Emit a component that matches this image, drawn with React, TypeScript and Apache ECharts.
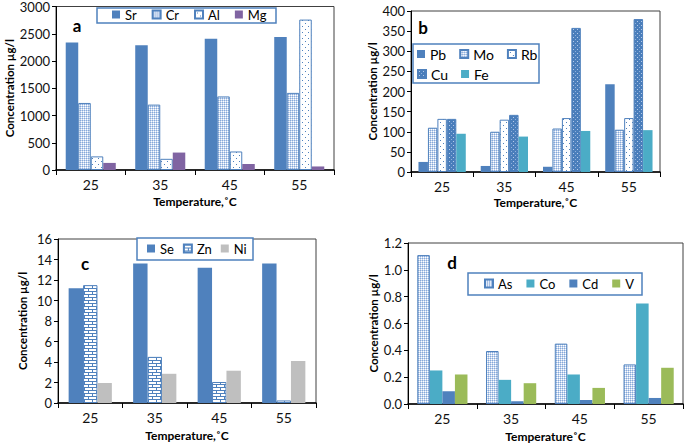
import React, { useEffect, useRef } from "react";
import * as echarts from "echarts";

const temps = ["25", "35", "45", "55"];

// Panel a
const sr = [2340, 2290, 2410, 2440];
const cr = [1230, 1200, 1350, 1415];
const al = [250, 205, 340, 2760];
const mg = [130, 320, 110, 65];
// Panel b
const pb = [25, 15, 13, 218];
const mo = [110, 100, 108, 105];
const rb = [132, 130, 134, 134];
const cu = [132, 142, 358, 380];
const fe = [95, 88, 102, 104];
// Panel c
const se = [11.2, 13.6, 13.2, 13.6];
const zn = [11.5, 4.5, 2.05, 0.25];
const ni = [1.95, 2.85, 3.15, 4.1];
// Panel d
const as = [1.11, 0.395, 0.45, 0.295];
const co = [0.25, 0.18, 0.22, 0.75];
const cd = [0.095, 0.02, 0.03, 0.045];
const v = [0.22, 0.155, 0.12, 0.27];

const BLUE = "#4F81BD";
const FONT = "Lato, 'Open Sans', sans-serif";

function tile(w: number, h: number, draw: (ctx: CanvasRenderingContext2D) => void) {
  const c = document.createElement("canvas");
  c.width = w;
  c.height = h;
  const ctx = c.getContext("2d") as CanvasRenderingContext2D;
  draw(ctx);
  return { image: c, repeat: "repeat", imageWidth: w, imageHeight: h } as any;
}

export default function App() {
  const ref = useRef<HTMLDivElement>(null);
  useEffect(() => {
    if (!ref.current) return;
    const chart = echarts.init(ref.current, undefined, { renderer: "svg" });

    const gridPat = tile(2, 2, (g) => {
      g.fillStyle = "#87a9d9"; g.fillRect(0, 0, 1, 1);
      g.fillStyle = "#c4d5ee"; g.fillRect(1, 0, 1, 1);
      g.fillStyle = "#c4d5ee"; g.fillRect(0, 1, 1, 1);
      g.fillStyle = "#ffffff"; g.fillRect(1, 1, 1, 1);
    });
    const dotPat = tile(6, 6, (g) => {
      g.fillStyle = "#ffffff"; g.fillRect(0, 0, 6, 6);
      g.fillStyle = BLUE; g.fillRect(2, 2, 1, 1); g.fillRect(5, 5, 1, 1);
    });
    const cuPat = tile(4, 4, (g) => {
      g.fillStyle = "#4a7ebb"; g.fillRect(0, 0, 4, 4);
      g.fillStyle = "#b7cbe9"; g.fillRect(1, 1, 1, 1);
      g.fillStyle = "#8fb0dd"; g.fillRect(3, 3, 1, 1);
    });
    const brickPat = tile(8, 6, (g) => {
      g.fillStyle = "#ffffff"; g.fillRect(0, 0, 8, 6);
      g.fillStyle = BLUE;
      g.fillRect(0, 0, 8, 1); g.fillRect(0, 3, 8, 1);
      g.fillRect(0, 1, 1, 2); g.fillRect(4, 4, 1, 2);
    });

    const grids = [
      { left: 56, top: 5, width: 278, height: 165 },
      { left: 411, top: 11, width: 249, height: 161 },
      { left: 58, top: 239, width: 258, height: 164 },
      { left: 408, top: 243, width: 275, height: 161 },
    ];
    const xNames = ["Temperature,˚C", "Temperature,˚C", "Temperature,˚C", "Temperature˚C"];
    const xGaps = [25, 24, 26, 26];
    const yGaps = [40, 32, 30, 28];
    const yRanges = [
      { min: 0, max: 3000, interval: 500 },
      { min: 0, max: 400, interval: 50 },
      { min: 0, max: 16, interval: 2 },
      { min: 0, max: 1.2, interval: 0.2 },
    ];
    const catGaps = ["28%", "24%", "33%", "27%"];

    const mk = (name: string, data: number[], idx: number, color: any, border = false) => ({
      name,
      type: "bar",
      xAxisIndex: idx,
      yAxisIndex: idx,
      data,
      barGap: "0%",
      barCategoryGap: catGaps[idx],
      itemStyle: {
        color,
        borderColor: border ? BLUE : "transparent",
        borderWidth: border ? 1 : 0,
      },
    });

    const series = [
      mk("Sr", sr, 0, BLUE),
      mk("Cr", cr, 0, gridPat, true),
      mk("Al", al, 0, dotPat, true),
      mk("Mg", mg, 0, "#8064A2"),
      mk("Pb", pb, 1, BLUE),
      mk("Mo", mo, 1, gridPat, true),
      mk("Rb", rb, 1, dotPat, true),
      mk("Cu", cu, 1, cuPat, true),
      mk("Fe", fe, 1, "#4BACC6"),
      mk("Se", se, 2, BLUE),
      mk("Zn", zn, 2, brickPat, true),
      mk("Ni", ni, 2, "#BFBFBF"),
      mk("As", as, 3, gridPat, true),
      mk("Co", co, 3, "#4BACC6"),
      mk("Cd", cd, 3, BLUE),
      mk("V", v, 3, "#9BBB59"),
    ];

    const legendBase = {
      orient: "horizontal",
      padding: 0,
      itemWidth: 8,
      itemHeight: 8,
      icon: "rect",
      z: 10,
      textStyle: { fontSize: 13, color: "#000", fontFamily: FONT },
    };

    const boxes = [
      { x: 97, y: 8, w: 179, h: 15 },
      { x: 413, y: 44, w: 126, h: 39 },
      { x: 137, y: 238, w: 116, h: 22 },
      { x: 468, y: 273, w: 174, h: 22 },
    ];
    const letters = [
      { t: "a", x: 77, y: 25 },
      { t: "b", x: 423, y: 27 },
      { t: "c", x: 85, y: 263 },
      { t: "d", x: 452, y: 262 },
    ];

    const option: any = {
      animation: false,
      backgroundColor: "#ffffff",
      textStyle: { fontFamily: FONT },
      grid: grids.map((g) => ({ ...g, show: true, borderColor: "#404040", borderWidth: 1, backgroundColor: "transparent" })),
      xAxis: grids.map((_, i) => ({
        type: "category",
        gridIndex: i,
        data: temps,
        boundaryGap: true,
        axisLine: { show: true, lineStyle: { color: "#000", width: 1.5 } },
        axisTick: { show: true, length: 5, lineStyle: { color: "#000" } },
        axisLabel: { fontSize: 14, color: "#111", margin: 7, fontFamily: FONT },
        name: xNames[i],
        nameLocation: "middle",
        nameGap: xGaps[i],
        nameTextStyle: { fontWeight: "bold", fontSize: 12, color: "#000", fontFamily: FONT },
      })),
      yAxis: grids.map((_, i) => ({
        type: "value",
        gridIndex: i,
        ...yRanges[i],
        splitLine: { show: false },
        axisLine: { show: true, lineStyle: { color: "#000", width: 1 } },
        axisTick: { show: true, length: 4, lineStyle: { color: "#000" } },
        axisLabel: {
          fontSize: 13,
          color: "#111",
          margin: 6,
          fontFamily: FONT,
          formatter: i === 3 ? (val: number) => val.toFixed(1) : (val: number) => String(val),
        },
        name: "Concentration µg/l",
        nameLocation: "middle",
        nameRotate: 90,
        nameGap: yGaps[i],
        nameTextStyle: { fontWeight: "bold", fontSize: 11.5, color: "#000", fontFamily: FONT },
      })),
      legend: [
        { ...legendBase, data: ["Sr", "Cr", "Al", "Mg"], left: 112, top: 8, itemGap: 15 },
        { ...legendBase, data: ["Pb", "Mo", "Rb"], left: 417, top: 47, itemGap: 13, textStyle: { ...legendBase.textStyle, fontSize: 14 } },
        { ...legendBase, data: ["Cu", "Fe"], left: 417, top: 67, itemGap: 13, textStyle: { ...legendBase.textStyle, fontSize: 14 } },
        { ...legendBase, data: ["Se", "Zn", "Ni"], left: 147, top: 242, itemGap: 9 },
        { ...legendBase, data: ["As", "Co", "Cd", "V"], left: 484, top: 277, itemGap: 14 },
      ],
      graphic: [
        ...boxes.map((b) => ({
          type: "rect",
          z: 3,
          silent: true,
          shape: { x: b.x, y: b.y, width: b.w, height: b.h },
          style: { fill: "#ffffff", stroke: BLUE, lineWidth: 1.5 },
        })),
        ...letters.map((l) => ({
          type: "text",
          x: l.x,
          y: l.y,
          z: 10,
          style: {
            text: l.t,
            fontSize: 17,
            fontWeight: "bold",
            fill: "#000",
            fontFamily: FONT,
            align: "center",
            verticalAlign: "middle",
          },
        })),
      ],
      series,
    };
    chart.setOption(option);
    return () => chart.dispose();
  }, []);
  return (
    <div
      ref={ref}
      style={{ position: "fixed", left: 0, top: 0, width: 685, height: 445, background: "#fff" }}
    />
  );
}
